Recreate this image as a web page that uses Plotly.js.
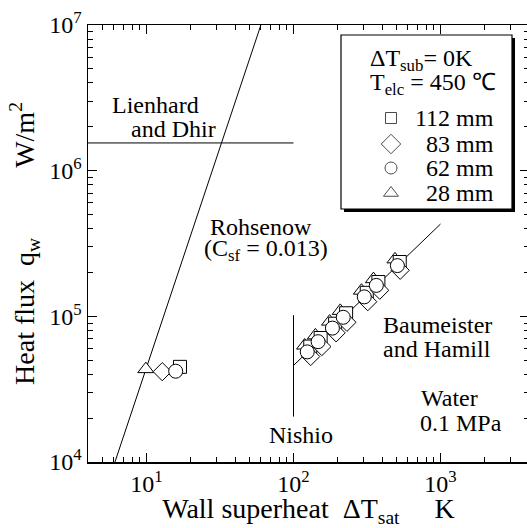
<!DOCTYPE html>
<html><head><meta charset="utf-8">
<script src="https://cdn.plot.ly/plotly-3.0.1.min.js"></script>
<style>html,body{margin:0;padding:0;overflow:hidden;background:#fff}</style>
</head><body><div id="chart"></div>
<script>
const FONT = 'Liberation Serif, Times New Roman, serif';

// ---- correlation lines ----
const rohsenowX = [6.1, 60];
const rohsenowY = [1e4, 1e7];
const lienhardX = [4, 100];
const lienhardY = [1.55e6, 1.55e6];
const nishioX = [100, 100];
const nishioY = [2.05e4, 1.02e5];
const baumeisterX = [100, 1000];
const baumeisterY = [4.6e4, 4.3e5];

// ---- measured data (wall superheat K, heat flux W/m2) ----
const seriesNames = ['112 mm', '83 mm', '62 mm', '28 mm'];
const seriesSymbols = ['square', 'diamond', 'circle', 'triangle-up'];
const x28 = [9.9, 119, 141, 176, 208, 290, 350, 490];
const y28 = [43400, 63000, 74000, 92000, 109000, 150000, 180000, 246000];
const x112 = [16.9, 130, 153, 192, 228, 315, 378, 528];
const y112 = [45000, 62000, 71000, 89000, 105000, 145000, 172000, 236000];
const x83 = [12.8, 131, 156, 195, 231, 320, 386, 532];
const y83 = [41700, 53000, 62000, 77000, 91000, 126000, 151000, 207000];
const x62 = [15.8, 124, 147, 184, 218, 303, 366, 509];
const y62 = [42000, 57000, 67000, 83000, 98500, 136000, 163000, 223000];

// ---- axis ticks ----
const xTickVals = [10, 100, 1000];
const xTickText = ['10<sup>1</sup>', '10<sup>2</sup>', '10<sup>3</sup>'];
const yTickVals = [1e4, 1e5, 1e6, 1e7];
const yTickText = ['10<sup>4</sup>', '10<sup>5</sup>', '10<sup>6</sup>', '10<sup>7</sup>'];

const xMinor = [], yMinor = [];
for (const d of [1, 10, 100, 1000]) for (let k = 2; k <= 9; k++) { const v = k * d; if (v > 4 && v < 4000) xMinor.push(v); }
for (const d of [1e4, 1e5, 1e6]) for (let k = 2; k <= 9; k++) yMinor.push(k * d);

const lineStyle = {color: 'black', width: 1};
const traces = [
  {x: rohsenowX, y: rohsenowY, mode: 'lines', line: lineStyle, hoverinfo: 'skip'},
  {x: lienhardX, y: lienhardY, mode: 'lines', line: lineStyle, hoverinfo: 'skip'},
  {x: nishioX, y: nishioY, mode: 'lines', line: lineStyle, hoverinfo: 'skip'},
  {x: baumeisterX, y: baumeisterY, mode: 'lines', line: lineStyle, hoverinfo: 'skip'},
];
const mk = (sym, size) => ({symbol: sym, size: size, color: 'white', line: {color: 'black', width: 1}});
traces.push({x: x28, y: y28, name: seriesNames[3], mode: 'markers', marker: mk('triangle-up', 14)});
traces.push({x: x112, y: y112, name: seriesNames[0], mode: 'markers', marker: mk('square', 13)});
traces.push({x: x83, y: y83, name: seriesNames[1], mode: 'markers', marker: mk('diamond', 14)});
traces.push({x: x62, y: y62, name: seriesNames[2], mode: 'markers', marker: mk('circle', 14)});

// legend key markers drawn on a hidden overlay axis (0..1 of plot area)
const L = 88, W = 441, B = 462, H = 437;
const px = v => (v - L) / W, py = v => (B - v) / H;
const keyRows = [118, 144, 168, 193];
traces.push({
  x: keyRows.map(() => px(391)), y: keyRows.map(py), xaxis: 'x2', yaxis: 'y2', mode: 'markers',
  marker: {symbol: seriesSymbols, size: [11, 15, 12, 13], color: 'white', line: {color: 'black', width: 1}},
  hoverinfo: 'skip', cliponaxis: false
});

const ann = (t, x, y, anchor) => ({text: t, x: px(x), y: py(y), xref: 'paper', yref: 'paper',
  xanchor: anchor || 'left', yanchor: 'middle', showarrow: false, font: {family: FONT, size: 24, color: 'black'}});
const annotations = [
  ann('Lienhard', 110, 105),
  ann('and Dhir', 129, 128.5),
  ann('Rohsenow', 208, 227),
  ann('(C<sub>sf</sub> = 0.013)', 202, 250),
  ann('Baumeister', 380.5, 325),
  ann('and Hamill', 380.5, 349),
  ann('Water', 419, 398),
  ann('0.1 MPa', 418, 423),
  ann('Nishio', 267, 435),
  ann('ΔT<sub>sub</sub>= 0K', 368, 60),
  ann('T<sub>elc</sub> = 450 ℃', 368, 84),
];
seriesNames.forEach((n, i) => annotations.push(ann(n, 496, keyRows[i], 'right')));

const shapes = [
  {type: 'rect', xref: 'paper', yref: 'paper', x0: px(344), x1: px(515), y0: py(212), y1: py(38),
   fillcolor: 'black', line: {width: 0}, layer: 'below'},
  {type: 'rect', xref: 'paper', yref: 'paper', x0: px(341), x1: px(512), y0: py(209), y1: py(35),
   fillcolor: 'white', line: {color: 'black', width: 1.2}, layer: 'below'},
];

const NB = '\u00a0';
const axisCommon = {
  type: 'log', showgrid: false, zeroline: false, showline: true, linecolor: 'black', linewidth: 1.5,
  mirror: 'ticks', ticks: 'inside', ticklen: 9, tickwidth: 1, tickcolor: 'black', tickmode: 'array',
  tickfont: {family: FONT, size: 24, color: 'black'},
};
const layout = {
  width: 531, height: 528,
  margin: {l: L, r: 531 - L - W, t: 25, b: 528 - B},
  paper_bgcolor: 'white', plot_bgcolor: 'rgba(0,0,0,0)',
  showlegend: false,
  xaxis: Object.assign({}, axisCommon, {
    range: [Math.log10(4), Math.log10(4000)], tickvals: xTickVals, ticktext: xTickText,
    minor: {tickmode: 'array', tickvals: xMinor, ticks: 'inside', ticklen: 5, tickwidth: 1, tickcolor: 'black', showgrid: false},
    title: {text: 'Wall superheat' + NB + NB + 'ΔT<sub>sat</sub>' + NB.repeat(5) + 'K', font: {family: FONT, size: 28, color: 'black'}, standoff: 5}
  }),
  yaxis: Object.assign({}, axisCommon, {
    range: [4, 7], tickvals: yTickVals, ticktext: yTickText,
    minor: {tickmode: 'array', tickvals: yMinor, ticks: 'inside', ticklen: 5, tickwidth: 1, tickcolor: 'black', showgrid: false},
    title: {text: 'Heat flux' + NB + NB + 'q<sub>w</sub>' + NB.repeat(10) + 'W/m<sup>2</sup>', font: {family: FONT, size: 28, color: 'black'}, standoff: 6}
  }),
  xaxis2: {overlaying: 'x', range: [0, 1], visible: false},
  yaxis2: {overlaying: 'y', range: [0, 1], visible: false},
  annotations: annotations,
  shapes: shapes,
};
Plotly.newPlot('chart', traces, layout, {displayModeBar: false, staticPlot: true});
</script>
</body></html>
